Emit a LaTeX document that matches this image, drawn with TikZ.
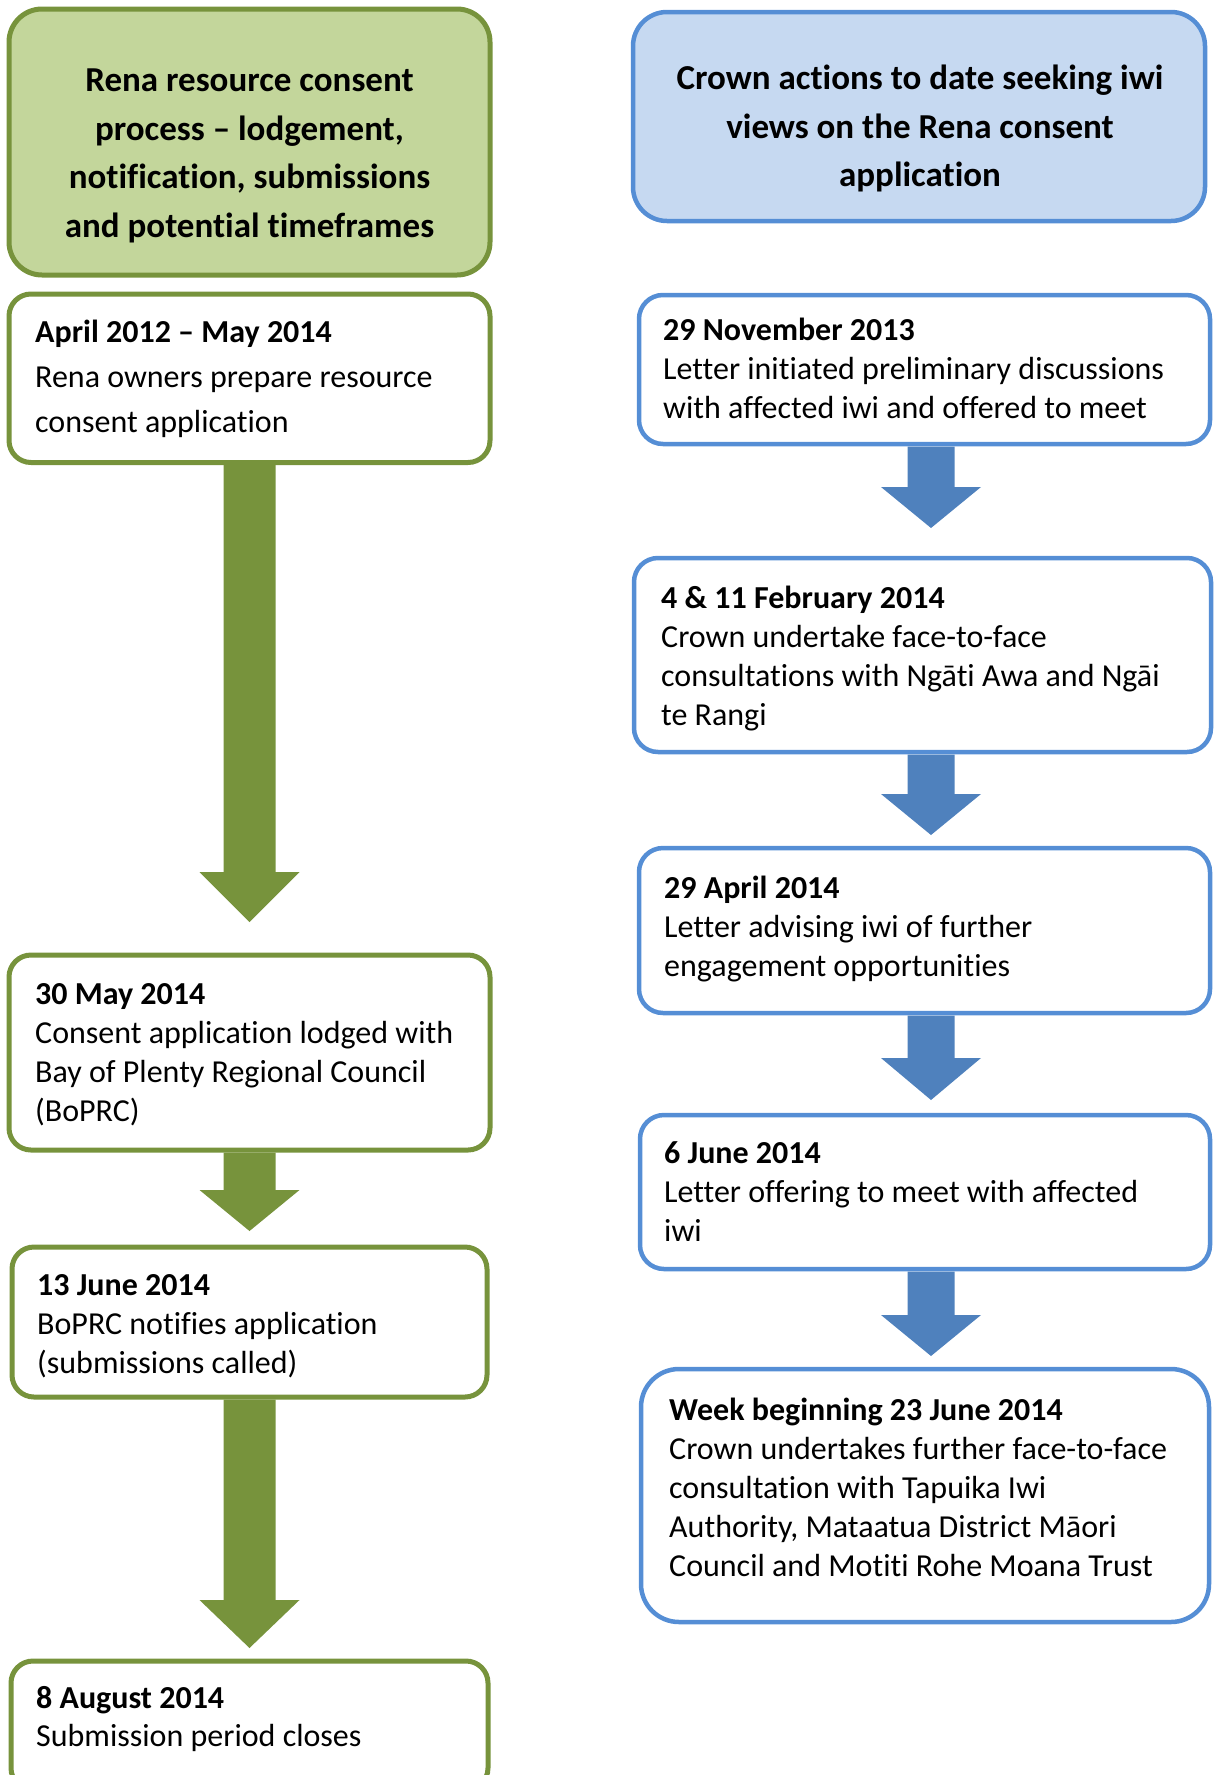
\documentclass[tikz,border=0pt]{standalone}
\usepackage{fontspec}
\setmainfont[Ligatures=NoCommon]{Carlito}
\usetikzlibrary{calc}
\definecolor{gfill}{HTML}{C3D69B}
\definecolor{gline}{HTML}{77933C}
\definecolor{bfill}{HTML}{C6D9F1}
\definecolor{bline}{HTML}{558ED5}
\definecolor{barrow}{HTML}{4F81BD}
\newcommand\blockarrow[8]{%
  \fill[#1] let \p1=($(#2.south)+(#4,0)$), \p2=(#3.north) in
    (\x1-#5,\y1-2.5pt) -- (\x1+#5,\y1-2.5pt) -- (\x1+#5,\y2+#8+#7) -- (\x1+#6,\y2+#8+#7)
    -- (\x1,\y2+#8) -- (\x1-#6,\y2+#8+#7) -- (\x1-#5,\y2+#8+#7) -- cycle;}
\begin{document}
\begin{tikzpicture}[x=1pt,y=-1pt,
  box/.style={draw, rectangle, inner sep=0pt, outer sep=0pt, fill=white},
  gbox/.style={box, draw=gline, line width=5pt, rounded corners=22pt},
  bbox/.style={box, draw=bline, line width=4.5pt, rounded corners=24pt},
  body/.style={anchor=north west, inner sep=0pt, align=left, font=\fontsize{32}{39}\selectfont},
  head/.style={anchor=north, inner sep=0pt, align=center, font=\fontsize{35}{48.5}\selectfont\bfseries}]
\useasboundingbox (0,0) rectangle (1213,1775);
% left column
\node[gbox, fill=gfill, rounded corners=33pt, minimum width=481pt, minimum height=266pt] (GH) at (249.5,142) {};
\node[gbox, minimum width=481pt, minimum height=168.5pt] (L1) at (249.5,378.25) {};
\node[gbox, minimum width=481pt, minimum height=195pt] (L2) at (249.5,1052.5) {};
\node[gbox, minimum width=475pt, minimum height=150pt] (L3) at (249.5,1322) {};
\node[gbox, minimum width=477pt, minimum height=129pt] (L4) at (249.5,1725.5) {};
% right column
\node[bbox, fill=bfill, rounded corners=34pt, minimum width=572pt, minimum height=209pt] (BH) at (919,116.5) {};
\node[bbox, minimum width=571pt, minimum height=149pt] (R1) at (924.5,369.5) {};
\node[bbox, minimum width=577pt, minimum height=194pt] (R2) at (922.5,655) {};
\node[bbox, minimum width=571pt, minimum height=165pt] (R3) at (924.5,930.5) {};
\node[bbox, minimum width=570pt, minimum height=154pt] (R4) at (925,1192) {};
\node[bbox, rounded corners=38pt, minimum width=568pt, minimum height=253pt] (R5) at (925,1495.5) {};
% arrows
\blockarrow{gline}{L1}{L2}{0}{26pt}{50pt}{50pt}{33pt}
\blockarrow{gline}{L2}{L3}{0}{26pt}{50pt}{41pt}{16pt}
\blockarrow{gline}{L3}{L4}{0}{26pt}{50pt}{48pt}{13pt}
\blockarrow{barrow}{R1}{R2}{6.5}{23.5pt}{50pt}{41pt}{30pt}
\blockarrow{barrow}{R2}{R3}{8.5}{23.5pt}{50pt}{41pt}{13pt}
\blockarrow{barrow}{R3}{R4}{6.5}{23.5pt}{50pt}{42pt}{15pt}
\blockarrow{barrow}{R4}{R5}{6}{23.5pt}{50pt}{41pt}{13pt}
% texts
\node[head] (GHt) at (249.5,57.5) {\strut Rena resource consent\\process – lodgement,\\notification, submissions\\and potential timeframes};
\node[head] (BHt) at (920,55.5) {\strut Crown actions to date seeking iwi\\views on the Rena consent\\application};
\node[body, font=\fontsize{32}{45}\selectfont] (L1t) at (35,310.5) {\strut\textbf{April 2012 – May 2014}\\Rena owners prepare resource\\consent application};
\node[body] (L2t) at (35,976.5) {\strut\textbf{30 May 2014}\\Consent application lodged with\\Bay of Plenty Regional Council\\(BoPRC)};
\node[body] (L3t) at (37,1267.5) {\strut\textbf{13 June 2014}\\BoPRC notifies application\\(submissions called)};
\node[body, font=\fontsize{32}{38}\selectfont] (L4t) at (36,1681.5) {\strut\textbf{8 August 2014}\\Submission period closes};
\node[body] (R1t) at (663,313) {\strut\textbf{29 November 2013}\\Letter initiated preliminary discussions\\with affected iwi and offered to meet};
\node[body] (R2t) at (661,580.5) {\strut\textbf{4 \& 11 February 2014}\\Crown undertake face-to-face\\consultations with Ngāti Awa and Ngāi\\te Rangi};
\node[body] (R3t) at (664,870.5) {\strut\textbf{29 April 2014}\\Letter advising iwi of further\\engagement opportunities};
\node[body] (R4t) at (664,1135.5) {\strut\textbf{6 June 2014}\\Letter offering to meet with affected\\iwi};
\node[body] (R5t) at (669,1392.5) {\strut\textbf{Week beginning 23 June 2014}\\Crown undertakes further face-to-face\\consultation with Tapuika Iwi\\Authority, Mataatua District Māori\\Council and Motiti Rohe Moana Trust};
\end{tikzpicture}
\end{document}
